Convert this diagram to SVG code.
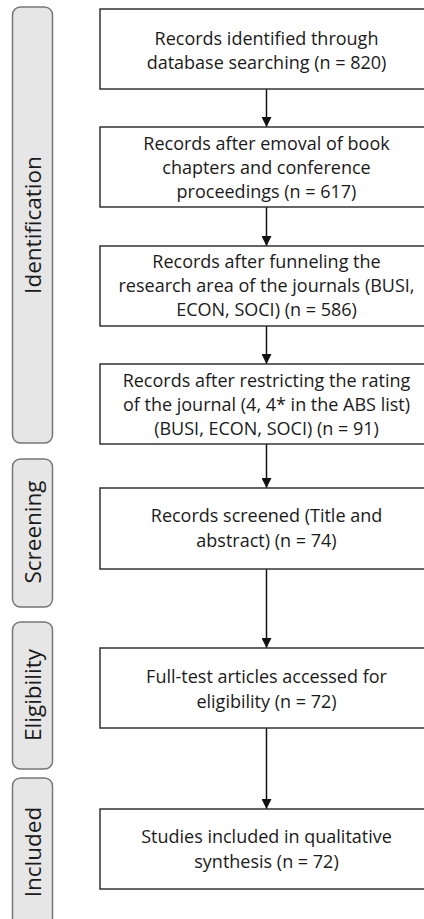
<svg xmlns="http://www.w3.org/2000/svg" width="424" height="919" viewBox="0 0 424 919">
<style>
.bg{fill:#ffffff}
.box{fill:#ffffff;stroke:#333333;stroke-width:1.5}
.phase{fill:#e6e6e6;stroke:#777777;stroke-width:1.5}
.t{font-family:"Open Sans","DejaVu Sans",sans-serif;font-size:18px;fill:#1a1a1a;text-anchor:middle}
.p{font-family:"Open Sans","DejaVu Sans",sans-serif;font-size:22.5px;fill:#1a1a1a;text-anchor:middle}
.conn{stroke:#111111;stroke-width:1.5;fill:none;marker-end:url(#arr)}
</style>
<defs>
<marker id="arr" markerUnits="userSpaceOnUse" markerWidth="10" markerHeight="10" refX="10" refY="5" orient="auto">
<path d="M0,0 L10,5 L0,10 Z" fill="#111111"/>
</marker>
</defs>
<rect class="bg" x="0" y="0" width="424" height="919"/>

<g id="phase-identification">
<rect class="phase" x="12.5" y="7" width="40" height="436" rx="8"/>
<text class="p" transform="translate(41,225) rotate(-90)">Identification</text>
</g>
<g id="phase-screening">
<rect class="phase" x="12.5" y="459" width="40" height="148" rx="8"/>
<text class="p" transform="translate(41,532) rotate(-90)">Screening</text>
</g>
<g id="phase-eligibility">
<rect class="phase" x="12.5" y="622" width="40" height="147" rx="8"/>
<text class="p" transform="translate(41,695) rotate(-90)">Eligibility</text>
</g>
<g id="phase-included">
<rect class="phase" x="12.5" y="778" width="40" height="152" rx="8"/>
<text class="p" transform="translate(41,852) rotate(-90)">Included</text>
</g>

<g id="connectors">
<line class="conn" x1="266.5" y1="89" x2="266.5" y2="127"/>
<line class="conn" x1="266.5" y1="207" x2="266.5" y2="246"/>
<line class="conn" x1="266.5" y1="326" x2="266.5" y2="364"/>
<line class="conn" x1="266.5" y1="444" x2="266.5" y2="488"/>
<line class="conn" x1="266.5" y1="569" x2="266.5" y2="648"/>
<line class="conn" x1="266.5" y1="728" x2="266.5" y2="809"/>
</g>

<g id="n1">
<rect class="box" x="100" y="9" width="340" height="80"/>
<text class="t" x="266.5" y="44.5">Records identified through</text>
<text class="t" x="266.5" y="68.5">database searching (n = 820)</text>
</g>
<g id="n2">
<rect class="box" x="100" y="127" width="340" height="80"/>
<text class="t" x="266.5" y="149.5">Records after emoval of book</text>
<text class="t" x="266.5" y="173.5">chapters and conference</text>
<text class="t" x="266.5" y="197.5">proceedings (n = 617)</text>
</g>
<g id="n3">
<rect class="box" x="100" y="246" width="340" height="80"/>
<text class="t" x="266.5" y="268">Records after funneling the</text>
<text class="t" x="266.5" y="292">research area of the journals (BUSI,</text>
<text class="t" x="266.5" y="316">ECON, SOCI) (n = 586)</text>
</g>
<g id="n4">
<rect class="box" x="100" y="364" width="340" height="80"/>
<text class="t" x="266.5" y="387">Records after restricting the rating</text>
<text class="t" x="266.5" y="411">of the journal (4, 4* in the ABS list)</text>
<text class="t" x="266.5" y="435">(BUSI, ECON, SOCI) (n = 91)</text>
</g>
<g id="n5">
<rect class="box" x="100" y="488" width="340" height="81"/>
<text class="t" x="266.5" y="522">Records screened (Title and</text>
<text class="t" x="266.5" y="546.5">abstract) (n = 74)</text>
</g>
<g id="n6">
<rect class="box" x="100" y="648" width="340" height="80"/>
<text class="t" x="266.5" y="683">Full-test articles accessed for</text>
<text class="t" x="266.5" y="707.5">eligibility (n = 72)</text>
</g>
<g id="n7">
<rect class="box" x="100" y="809" width="340" height="80"/>
<text class="t" x="266.5" y="843">Studies included in qualitative</text>
<text class="t" x="266.5" y="867.5">synthesis (n = 72)</text>
</g>
</svg>
